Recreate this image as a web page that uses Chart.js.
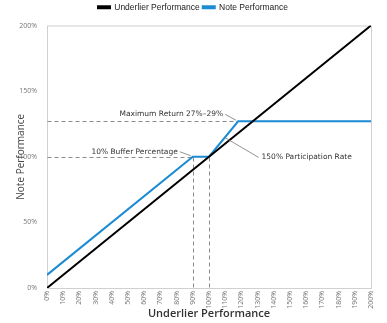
<!DOCTYPE html>
<html>
<head>
<meta charset="utf-8">
<script src="https://cdn.jsdelivr.net/npm/chart.js@4"></script>
<style>
  html, body { margin: 0; padding: 0; background: #fff; }
  #wrap { width: 387px; height: 323px; }
</style>
</head>
<body>
<div id="wrap"><canvas id="myChart" width="387" height="323"></canvas></div>
<script>
// data (percent of initial value)
var underlierX = [0, 200];
var underlierY = [0, 200];
var noteX = [0, 90, 100, 118, 200];
var noteY = [10, 100, 100, 127, 127];

// dashed guides: [x from, y from, x to, y to]
var guideLines = [
  [0, 127, 118, 127],
  [0, 100, 90, 100],
  [90, 100, 90, 0],
  [100, 100, 100, 0]
];

// callouts: text, point on the line it refers to, pixel offset of the text
var calloutText = ['Maximum Return 27%\u201329%', '10% Buffer Percentage', '150% Participation Rate'];
var calloutPoint = [[118, 127], [90, 100], [109, 114]];
var calloutOffset = [[-13, -7], [-13, -5], [35, 19]];
var calloutAlign = ['right', 'right', 'left'];

function toPoints(xs, ys) {
  return xs.map(function (x, i) { return { x: x, y: ys[i] }; });
}

var tickFont = '7px "Open Sans"';

var extras = {
  id: 'extras',
  beforeInit: function (chart) {
    // a bit more room under the legend
    var fit = chart.legend.fit;
    chart.legend.fit = function () {
      fit.call(this);
      this.height += 4;
    };
  },
  beforeDatasetsDraw: function (chart) {
    var c = chart.ctx, a = chart.chartArea;
    var sx = chart.scales.x, sy = chart.scales.y;
    c.save();
    // box around plot
    c.strokeStyle = '#d0d0d0';
    c.lineWidth = 1;
    c.strokeRect(a.left + 0.5, a.top + 0.5, a.right - a.left, a.bottom - a.top);
    // dashed guides
    c.strokeStyle = '#8a8a8a';
    c.setLineDash([4, 3]);
    guideLines.forEach(function (g) {
      c.beginPath();
      c.moveTo(Math.round(sx.getPixelForValue(g[0])) + 0.5, Math.round(sy.getPixelForValue(g[1])) + 0.5);
      c.lineTo(Math.round(sx.getPixelForValue(g[2])) + 0.5, Math.round(sy.getPixelForValue(g[3])) + 0.5);
      c.stroke();
    });
    c.restore();
  },
  afterDatasetsDraw: function (chart) {
    var c = chart.ctx;
    var sx = chart.scales.x, sy = chart.scales.y;
    c.save();
    c.font = '7.5px "DejaVu Sans"';
    c.textBaseline = 'middle';
    calloutText.forEach(function (t, i) {
      var px = sx.getPixelForValue(calloutPoint[i][0]);
      var py = sy.getPixelForValue(calloutPoint[i][1]);
      var tx = px + calloutOffset[i][0];
      var ty = py + calloutOffset[i][1];
      c.strokeStyle = '#777';
      c.lineWidth = 0.8;
      c.beginPath();
      c.moveTo(tx, ty);
      c.lineTo(px - (calloutAlign[i] == 'right' ? 2 : -1), py - 1);
      c.stroke();
      c.fillStyle = '#333';
      c.textAlign = calloutAlign[i];
      c.fillText(t, calloutAlign[i] == 'right' ? tx - 2 : tx + 3, ty);
    });
    // x tick labels, reading bottom to top
    c.font = tickFont;
    c.fillStyle = '#777';
    c.textAlign = 'right';
    c.textBaseline = 'middle';
    sx.ticks.forEach(function (tk) {
      var x = sx.getPixelForValue(tk.value);
      c.save();
      c.translate(x, chart.chartArea.bottom + 3);
      c.rotate(-Math.PI / 2);
      c.fillText(tk.value + '%', 0, 0);
      c.restore();
    });
    c.restore();
  }
};

var ctx = document.getElementById('myChart').getContext('2d');
var myChart = new Chart(ctx, {
  type: 'line',
  data: {
    datasets: [{
      label: 'Underlier Performance',
      data: toPoints(underlierX, underlierY),
      borderColor: '#000000',
      backgroundColor: '#000000',
      borderWidth: 2
    }, {
      label: 'Note Performance',
      data: toPoints(noteX, noteY),
      borderColor: '#1b8bd3',
      backgroundColor: '#1b8bd3',
      borderWidth: 2
    }]
  },
  options: {
    responsive: false,
    animation: false,
    layout: { padding: { left: 15, right: 16, top: 0, bottom: 3 } },
    elements: {
      point: { radius: 0 },
      line: { tension: 0 }
    },
    scales: {
      x: {
        type: 'linear',
        min: 0,
        max: 200,
        grid: { display: false },
        border: { display: false },
        ticks: {
          stepSize: 10,
          autoSkip: false,
          maxRotation: 90,
          minRotation: 90,
          padding: 2,
          color: 'rgba(0,0,0,0)',
          font: { size: 7, family: '"Open Sans"' },
          callback: function (v) { return v + '%'; }
        },
        title: {
          display: true,
          text: 'Underlier Performance',
          color: '#333',
          padding: { top: 1, bottom: 0 },
          font: { size: 11, weight: '600', family: '"Open Sans"' }
        },
        afterFit: function (s) { s.height = 32; }
      },
      y: {
        min: 0,
        max: 200,
        grid: { display: false },
        border: { display: false },
        ticks: {
          stepSize: 50,
          padding: 2,
          color: '#777',
          font: { size: 7, family: '"Open Sans"' },
          callback: function (v) { return v + '%'; }
        },
        title: {
          display: true,
          text: 'Note Performance',
          color: '#444',
          padding: { top: 0, bottom: 2 },
          font: { size: 10, family: '"Open Sans"' }
        },
        afterFit: function (s) { s.width = 32; }
      }
    },
    plugins: {
      legend: {
        display: true,
        position: 'top',
        labels: {
          boxWidth: 12,
          boxHeight: 2,
          padding: 3,
          color: '#222',
          font: { size: 8.5, family: '"Liberation Sans"' }
        }
      },
      tooltip: { enabled: false }
    }
  },
  plugins: [extras]
});
</script>
</body>
</html>
